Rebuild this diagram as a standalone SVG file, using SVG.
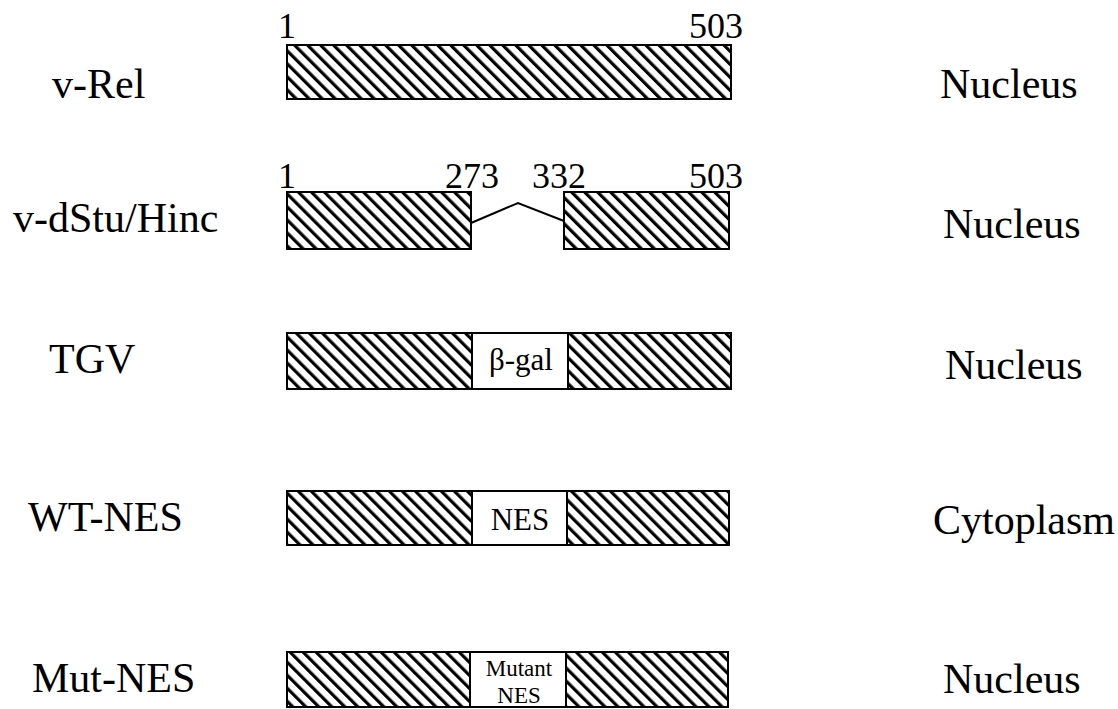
<svg xmlns="http://www.w3.org/2000/svg" width="1118" height="709" viewBox="0 0 1118 709">
<style>
text{font-family:"Liberation Serif","Times New Roman",serif;fill:#000}
.lbl{font-size:42px}
.num{font-size:36px}
.ins{font-size:31px;text-anchor:middle}
.sm{font-size:23px;text-anchor:middle}
.bar{fill:url(#hatch);stroke:#000;stroke-width:2}
.wb{fill:#fff;stroke:#000;stroke-width:2}
.lnk{fill:none;stroke:#000;stroke-width:2}
</style>
<defs>
<pattern id="hatch" patternUnits="userSpaceOnUse" width="9.2" height="20" patternTransform="rotate(-45)">
<rect x="0" y="0" width="9.2" height="20" fill="#fff"/>
<rect x="0" y="0" width="3.2" height="20" fill="#000"/>
</pattern>
</defs>
<rect width="1118" height="709" fill="#fff"/>

<g id="row-vrel">
<text class="lbl" x="52" y="98">v-Rel</text>
<rect class="bar" x="287" y="45" width="444" height="54"/>
<text class="num" x="278" y="38">1</text>
<text class="num" x="743" y="38" text-anchor="end">503</text>
<text class="lbl" x="940" y="98">Nucleus</text>
</g>

<g id="row-vdstu">
<text class="lbl" x="13" y="232">v-dStu/Hinc</text>
<rect class="bar" x="287" y="192" width="184" height="57"/>
<rect class="bar" x="564" y="192" width="165" height="57"/>
<text class="num" x="278" y="188">1</text>
<text class="num" x="445" y="188">273</text>
<text class="num" x="532" y="188">332</text>
<text class="num" x="743" y="188" text-anchor="end">503</text>
<text class="lbl" x="943" y="238">Nucleus</text>
</g>

<g id="row-tgv">
<text class="lbl" x="49" y="373">TGV</text>
<rect class="bar" x="287" y="333" width="444" height="56"/>
<rect class="wb" x="472" y="333" width="96" height="56"/>
<text class="ins" x="521" y="370">β-gal</text>
<text class="lbl" x="945" y="379">Nucleus</text>
</g>

<g id="row-wtnes">
<text class="lbl" x="28" y="531">WT-NES</text>
<rect class="bar" x="287" y="491" width="442" height="54"/>
<rect class="wb" x="472" y="491" width="95" height="54"/>
<text class="ins" x="520" y="530">NES</text>
<text class="lbl" x="933" y="534">Cytoplasm</text>
</g>

<g id="row-mutnes">
<text class="lbl" x="32" y="692">Mut-NES</text>
<rect class="bar" x="287" y="652" width="441" height="55"/>
<rect class="wb" x="470" y="652" width="96" height="55"/>
<text class="sm" x="519" y="676">Mutant</text>
<text class="sm" x="519" y="703">NES</text>
<text class="lbl" x="943" y="693">Nucleus</text>
</g>

<g id="connectors">
<polyline class="lnk" points="471,223 518,203 564,221"/>
</g>
</svg>
